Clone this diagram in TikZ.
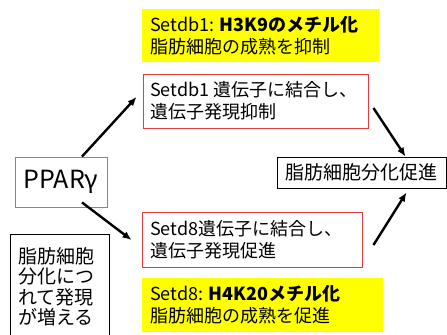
\documentclass[tikz,border=0pt]{standalone}
\usepackage{fontspec}
\setmainfont{Noto Sans CJK JP}
\usetikzlibrary{arrows.meta}
\definecolor{boxred}{RGB}{228,60,60}
\definecolor{pparred}{RGB}{238,95,70}
\definecolor{hiyellow}{RGB}{255,255,0}
\tikzset{
  txt/.style={font=\fontsize{18bp}{22bp}\selectfont, align=left, anchor=west, inner sep=0pt},
  yelbox/.style={fill=hiyellow, draw=none},
  redbox/.style={draw=boxred, line width=0.9bp},
  blkbox/.style={draw=black, line width=0.9bp},
  arr/.style={line width=2.4bp, -{Latex[length=9bp,width=7.5bp]}},
}
\begin{document}
\begin{tikzpicture}[x=1bp,y=-1bp]
\useasboundingbox (0,0) rectangle (447,334);
% boxes
\node[yelbox, minimum width=237bp, minimum height=53bp, inner sep=0pt] (y1) at (260.5,35.5) {};
\node[redbox, minimum width=225bp, minimum height=54bp, inner sep=0pt] (red1) at (255.5,101) {};
\node[redbox, minimum width=220bp, minimum height=55bp, inner sep=0pt] (red2) at (252,239.5) {};
\node[yelbox, minimum width=241bp, minimum height=54bp, inner sep=0pt] (y2) at (262.5,305) {};
\node[draw=pparred, line width=0.9bp, minimum width=92bp, minimum height=50bp, inner sep=0pt,
      font=\fontsize{25bp}{28bp}\selectfont] (ppar) at (61,182) {PPARγ};
\node[blkbox, minimum width=169bp, minimum height=31bp, inner sep=0pt,
      font=\fontsize{19bp}{22bp}\selectfont] (res) at (361.5,172.5) {脂肪細胞分化促進};
\node[blkbox, minimum width=99bp, minimum height=106bp, inner sep=0pt] (lbox) at (59.5,287) {};
% texts
\node[txt] (t1) at (150,35.5) {Setdb1: \textbf{H3K9のメチル化}\\脂肪細胞の成熟を抑制};
\node[txt] (t2) at (150,101) {Setdb1 遺伝子に結合し、\\遺伝子発現抑制};
\node[txt] (t3) at (150,239.5) {Setd8遺伝子に結合し、\\遺伝子発現促進};
\node[txt] (t4) at (150,305) {Setd8: \textbf{H4K20メチル化}\\脂肪細胞の成熟を促進};
\node[txt, font=\fontsize{19bp}{20.5bp}\selectfont, anchor=north west] (t5) at (18,247) {脂肪細胞\\分化につ\\れて発現\\が増える};
% arrows
\draw[arr] ([shift={(21,0)}]ppar.north) -- ([shift={(-6,-4)}]red1.west);
\draw[arr] ([shift={(21,-5)}]ppar.south) -- ([shift={(-10,0.5)}]red2.west);
\draw[arr] ([shift={(5,7)}]red1.east) -- ([shift={(44,0)}]res.north);
\draw[arr] ([shift={(11,5.5)}]red2.east) -- ([shift={(45,4)}]res.south);
\end{tikzpicture}
\end{document}
